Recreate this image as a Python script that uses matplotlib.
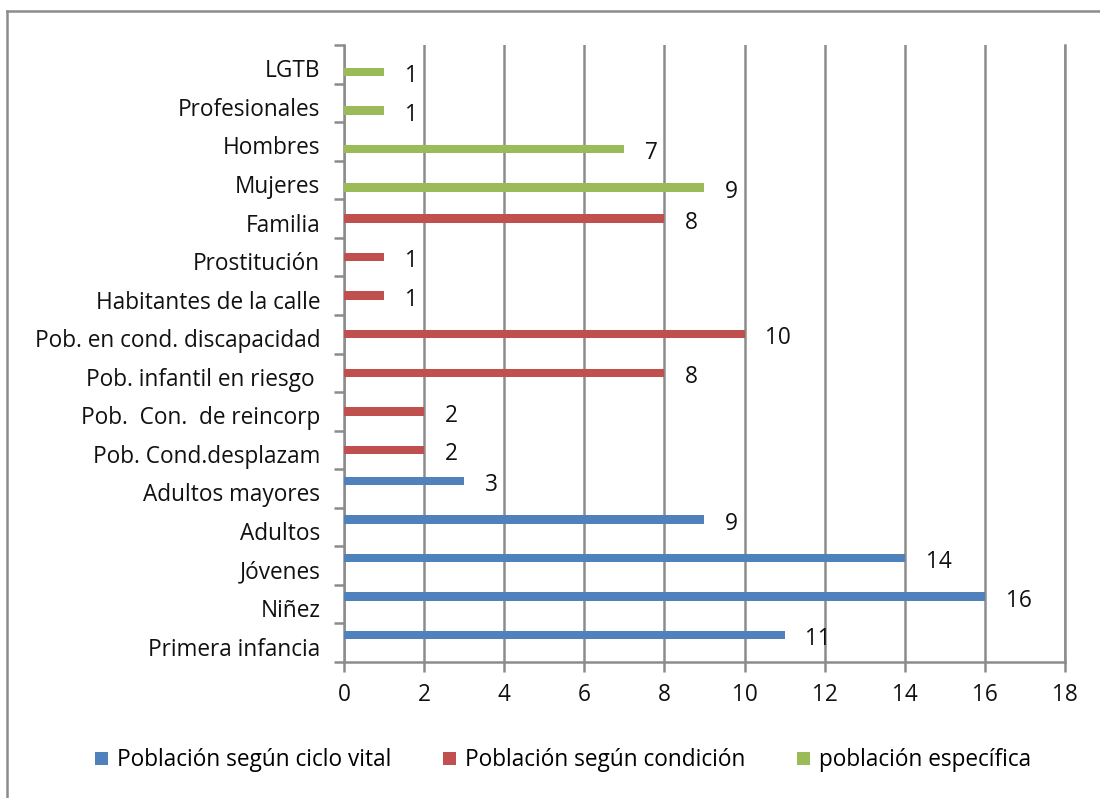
import numpy as np
import matplotlib.pyplot as plt
import matplotlib.transforms as mtransforms
from matplotlib.patches import Patch
from matplotlib.lines import Line2D

# categories from bottom to top
categories = ['Primera infancia', 'Niñez', 'Jóvenes', 'Adultos', 'Adultos mayores',
              'Pob. Cond.desplazam', 'Pob.  Con.  de reincorp', 'Pob. infantil en riesgo ',
              'Pob. en cond. discapacidad', 'Habitantes de la calle', 'Prostitución',
              'Familia', 'Mujeres', 'Hombres', 'Profesionales', 'LGTB']
ciclo_vital = [11, 16, 14, 9, 3, 0, 0, 0, 0, 0, 0, 0, 0, 0, 0, 0]
condicion = [0, 0, 0, 0, 0, 2, 2, 8, 10, 1, 1, 8, 0, 0, 0, 0]
especifica = [0, 0, 0, 0, 0, 0, 0, 0, 0, 0, 0, 0, 9, 7, 1, 1]
series_names = ['Población según ciclo vital', 'Población según condición', 'población específica']
colors = ['#4F81BD', '#C0504D', '#9BBB59']

plt.rcParams['font.family'] = ['Open Sans', 'DejaVu Sans']
fs = 16.3

fig = plt.figure(figsize=(11, 7.98), dpi=100)
ax = fig.add_axes([0.3127, 0.1704, 0.6555, 0.7732])

y = np.arange(len(categories))
offsets = [0.2, 0.0, -0.2]
for vals, off, col in zip([ciclo_vital, condicion, especifica], offsets, colors):
    for yi, v in zip(y, vals):
        if v > 0:
            ax.barh(yi + off, v, height=0.22, color=col, zorder=3)
            ax.annotate(str(v), (v, yi + off), xytext=(15, -3), textcoords='offset points',
                        va='center', ha='left', fontsize=fs, color='#111111')

ax.set_xlim(0, 18)
ax.set_ylim(-0.5, len(categories) - 0.5)
ax.set_xticks(range(0, 19, 2))
ax.set_yticks(y)
ax.set_yticklabels(categories)
ax.set_yticks(np.arange(-0.5, len(categories), 1), minor=True)

ax.grid(axis='x', color='#8c8c8c', linewidth=1.8, zorder=0)
ax.spines['top'].set_visible(False)
for s in ['left', 'bottom', 'right']:
    ax.spines[s].set_color('#8c8c8c')
    ax.spines[s].set_linewidth(1.8)

ax.tick_params(axis='y', which='major', length=0, pad=17, labelsize=fs, labelcolor='#111111')
ax.tick_params(axis='y', which='minor', length=7, width=1.8, color='#8c8c8c')
ax.tick_params(axis='x', length=7, width=1.8, color='#8c8c8c', pad=8, labelsize=fs,
               labelcolor='#111111')

# category labels sit a little below the slot centre
shift = mtransforms.ScaledTranslation(0, -4 / 100, fig.dpi_scale_trans)
for lbl in ax.get_yticklabels():
    lbl.set_transform(lbl.get_transform() + shift)

handles = [Patch(facecolor=c, edgecolor='none') for c in colors]
fig.legend(handles, series_names, loc='center', bbox_to_anchor=(0.512, 0.047), ncol=3,
           frameon=False, fontsize=fs, handlelength=0.55, handleheight=0.55,
           handletextpad=0.4, columnspacing=2.3)

# outer frame (left and top edges visible)
fig.add_artist(Line2D([0.0064, 0.0064], [0, 1 - 11 / 798], color='#8c8c8c', linewidth=1.8,
                      transform=fig.transFigure))
fig.add_artist(Line2D([0.0064, 1], [1 - 11 / 798, 1 - 11 / 798], color='#8c8c8c', linewidth=1.8,
                      transform=fig.transFigure))

fig.savefig('out.png', dpi=100)
